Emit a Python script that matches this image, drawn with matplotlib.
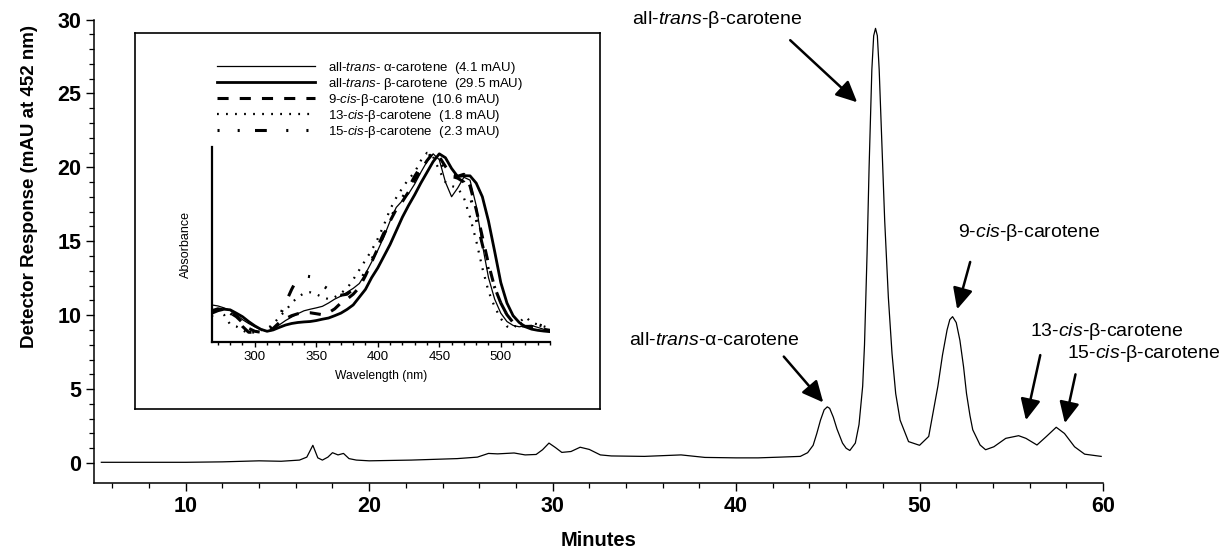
import matplotlib
matplotlib.use("Agg")
import matplotlib.pyplot as plt
from matplotlib.ticker import MultipleLocator, FixedLocator

plt.rcParams['font.family'] = ['Liberation Sans', 'DejaVu Sans']
plt.rcParams['mathtext.fontset'] = 'custom'
plt.rcParams['mathtext.rm'] = 'Liberation Sans'
plt.rcParams['mathtext.it'] = 'Liberation Sans:italic'
plt.rcParams['lines.scale_dashes'] = False

# ---------------- chromatogram data ----------------
minutes = [5.4, 8, 10, 12, 14, 15.2, 16.2, 16.6, 16.93, 17.2, 17.45, 17.75, 18.0, 18.3,
           18.6, 18.9, 19.3, 20, 22.3, 24.8, 25.9, 26.5, 27.0, 27.9, 28.5, 29.1, 29.45,
           29.8, 30.15, 30.5, 31.0, 31.5, 32.0, 32.6, 33.2, 35.0, 37.0, 38.3, 40.0, 41.2,
           42.4, 43.5, 43.9, 44.2, 44.4, 44.6, 44.8, 44.97, 45.1, 45.3, 45.5, 45.8, 46.0,
           46.2, 46.5, 46.7, 46.9, 47.0, 47.14,
           47.25, 47.4, 47.5, 47.6, 47.7, 47.8, 47.95, 48.1, 48.3, 48.5, 48.7, 48.94, 49.4,
           50.0, 50.5, 51.0, 51.25, 51.5, 51.65, 51.8, 52.0, 52.2, 52.4, 52.56, 52.75, 52.9,
           53.3, 53.6, 54.05, 54.7, 55.4,
           55.8, 56.4, 56.9, 57.45, 57.9, 58.45, 59.0, 59.9]
response = [0.05, 0.05, 0.05, 0.08, 0.15, 0.12, 0.2, 0.4, 1.2, 0.35, 0.2, 0.4, 0.7, 0.55,
            0.65, 0.3, 0.2, 0.15, 0.2, 0.3, 0.4, 0.65, 0.62, 0.68, 0.55, 0.58, 0.9,
            1.35, 1.05, 0.72, 0.78, 1.07, 0.92, 0.55, 0.48, 0.45, 0.55, 0.38, 0.35, 0.35,
            0.4, 0.45, 0.7, 1.2, 2.0, 2.9, 3.6, 3.8, 3.7, 3.1, 2.3, 1.35, 1.0,
            0.85, 1.35, 2.6, 5.2, 8.0, 14.2,
            20.0, 26.6, 28.9, 29.4, 28.9, 26.6, 21.5, 16.4, 11.2, 7.4, 4.7, 2.9, 1.45,
            1.2, 1.8, 5.2, 7.3, 9.0, 9.7, 9.9, 9.5, 8.3, 6.5, 4.7, 3.2, 2.25,
            1.22, 0.9, 1.1, 1.67, 1.85,
            1.67, 1.22, 1.78, 2.42, 2.0, 1.1, 0.6, 0.45]

# peak labels: text, text position (min, mAU), arrow tail, arrow head
peak_labels = ["all-$\\mathit{trans}$-β-carotene", "all-$\\mathit{trans}$-α-carotene",
               "9-$\\mathit{cis}$-β-carotene", "13-$\\mathit{cis}$-β-carotene",
               "15-$\\mathit{cis}$-β-carotene"]
label_xy = [(39.0, 30.0), (38.8, 8.3), (56.0, 15.6), (60.2, 8.9), (62.2, 7.4)]
arrow_tail = [(42.95, 28.6), (42.6, 7.2), (52.76, 13.6), (56.58, 7.3), (58.5, 6.0)]
arrow_head = [(46.6, 24.4), (44.75, 4.1), (52.05, 10.4), (55.8, 2.9), (57.92, 2.7)]

# ---------------- inset spectra data ----------------
wavelength = list(range(265, 545, 5))
alpha_trans = [0.19, 0.185, 0.175, 0.162, 0.14, 0.115, 0.095, 0.078, 0.063, 0.055, 0.065, 0.088,
               0.11, 0.128, 0.145, 0.16, 0.168, 0.175, 0.183, 0.2, 0.22, 0.235, 0.255, 0.275,
               0.30, 0.35, 0.41, 0.47, 0.54, 0.62, 0.69, 0.725, 0.76, 0.81, 0.87, 0.925,
               0.965, 0.935, 0.82, 0.745, 0.79, 0.845, 0.83, 0.7, 0.5, 0.33, 0.22, 0.148,
               0.105, 0.085, 0.078, 0.083, 0.085, 0.075, 0.065, 0.06]
beta_trans = [0.147, 0.16, 0.168, 0.165, 0.148, 0.13, 0.105, 0.083, 0.065, 0.055, 0.062, 0.075,
              0.087, 0.095, 0.1, 0.103, 0.105, 0.11, 0.117, 0.123, 0.135, 0.148, 0.167, 0.19,
              0.23, 0.27, 0.33, 0.38, 0.44, 0.5, 0.57, 0.64, 0.70, 0.755, 0.815, 0.87,
              0.925, 0.965, 0.945, 0.89, 0.848, 0.853, 0.852, 0.815, 0.745, 0.62, 0.465, 0.305,
              0.2, 0.135, 0.1, 0.078, 0.066, 0.06, 0.056, 0.053]
cis9 = [0.16, 0.17, 0.165, 0.15, 0.13, 0.1, 0.07, 0.055, 0.05, 0.052, 0.07, 0.1,
        0.12, 0.135, 0.145, 0.15, 0.15, 0.145, 0.14, 0.15, 0.17, 0.2, 0.22, 0.245,
        0.28, 0.34, 0.41, 0.48, 0.55, 0.62, 0.68, 0.72, 0.77, 0.83, 0.88, 0.93,
        0.97, 0.95, 0.9, 0.86, 0.85, 0.86, 0.8, 0.68, 0.54, 0.4, 0.28, 0.2,
        0.14, 0.1, 0.085, 0.08, 0.08, 0.072, 0.065, 0.06]
cis13 = [0.13, 0.17, 0.14, 0.09, 0.08, 0.06, 0.045, 0.05, 0.06, 0.07, 0.09, 0.13,
         0.16, 0.2, 0.23, 0.25, 0.255, 0.245, 0.23, 0.22, 0.23, 0.25, 0.275, 0.32,
         0.37, 0.42, 0.47, 0.53, 0.6, 0.68, 0.74, 0.79, 0.835, 0.87, 0.93, 0.97,
         0.95, 0.88, 0.82, 0.8, 0.79, 0.74, 0.64, 0.52, 0.38, 0.26, 0.18, 0.12,
         0.08, 0.07, 0.1, 0.13, 0.1, 0.09, 0.08, 0.07]
cis15 = [0.16, 0.17, 0.165, 0.15, 0.12, 0.08, 0.05, 0.05, 0.055, 0.06, 0.08, 0.13,
         0.2, 0.27, 0.33, 0.34, 0.335, 0.31, 0.29, 0.27, 0.25, 0.24, 0.245, 0.27,
         0.31, 0.36, 0.42, 0.49, 0.56, 0.63, 0.69, 0.74, 0.79, 0.85, 0.9, 0.945,
         0.97, 0.93, 0.88, 0.85, 0.84, 0.82, 0.75, 0.63, 0.5, 0.37, 0.28, 0.2,
         0.14, 0.1, 0.09, 0.1, 0.1, 0.09, 0.08, 0.07]
spectra_labels = ["all-$\\mathit{trans}$- α-carotene  (4.1 mAU)",
                  "all-$\\mathit{trans}$- β-carotene  (29.5 mAU)",
                  "9-$\\mathit{cis}$-β-carotene  (10.6 mAU)",
                  "13-$\\mathit{cis}$-β-carotene  (1.8 mAU)",
                  "15-$\\mathit{cis}$-β-carotene  (2.3 mAU)"]

W, H = 1222, 555
fig = plt.figure(figsize=(W / 100, H / 100), dpi=100)

def fx(px):
    return px / W

def fy(py):
    return 1 - py / H

# ---------------- main axes ----------------
ax_left, ax_right, ax_top, ax_bottom = 94, 1103, 19.5, 483
ax = fig.add_axes([fx(ax_left), fy(ax_bottom), fx(ax_right) - fx(ax_left),
                   fy(ax_top) - fy(ax_bottom)])
ax.plot(minutes, response, color='black', lw=0.9, solid_joinstyle='round')
ax.set_xlim(5, 60)
ax.set_ylim(-1.35, 30)
for s in ['top', 'right']:
    ax.spines[s].set_visible(False)
for s in ['left', 'bottom']:
    ax.spines[s].set_linewidth(1.1)
ax.xaxis.set_major_locator(FixedLocator([10, 20, 30, 40, 50, 60]))
ax.xaxis.set_minor_locator(FixedLocator(list(range(6, 61, 2))))
ax.yaxis.set_major_locator(FixedLocator([0, 5, 10, 15, 20, 25, 30]))
ax.yaxis.set_minor_locator(FixedLocator(list(range(0, 31, 1))))
ax.tick_params(which='major', direction='out', length=6, width=1.0, labelsize=15.5, pad=3)
ax.tick_params(which='minor', direction='out', length=3.5, width=0.9)
for lab in ax.get_xticklabels() + ax.get_yticklabels():
    lab.set_fontweight('bold')
ax.set_xlabel('Minutes', fontsize=14.5, fontweight='bold', va='center')
ax.xaxis.set_label_coords(0.5, (ax_bottom - 541) / (ax_bottom - ax_top))
ax.set_ylabel('Detector Response (mAU at 452 nm)', fontsize=13.5, fontweight='bold',
              va='center', ha='center')
ax.yaxis.set_label_coords((30 - ax_left) / (ax_right - ax_left),
                          (ax_bottom - 186) / (ax_bottom - ax_top))

for lab, txy, tail, head in zip(peak_labels, label_xy, arrow_tail, arrow_head):
    ax.text(txy[0], txy[1], lab, fontsize=14, ha='center', va='center', clip_on=False)
    ax.annotate('', xy=head, xytext=tail,
                arrowprops=dict(arrowstyle='-|>,head_length=0.8,head_width=0.38',
                                lw=1.8, color='black', shrinkA=0, shrinkB=0,
                                mutation_scale=16))

# ---------------- inset frame ----------------
box = fig.add_axes([fx(135), fy(409), fx(600) - fx(135), fy(33) - fy(409)])
box.set_xticks([])
box.set_yticks([])
for s in box.spines.values():
    s.set_linewidth(1.2)
box.set_facecolor('white')

# ---------------- inset spectra ----------------
ins = fig.add_axes([fx(211.7), fy(342), fx(550) - fx(211.7), fy(147) - fy(342)])
ins.set_facecolor('none')
l1, = ins.plot(wavelength, alpha_trans, color='black', lw=0.9)
l2, = ins.plot(wavelength, beta_trans, color='black', lw=2.0)
l3, = ins.plot(wavelength, cis9, color='black', lw=2.2, dashes=(8, 8))
l4, = ins.plot(wavelength, cis13, color='black', lw=1.6, dashes=(1.3, 5.2))
l5, = ins.plot(wavelength, cis15, color='black', lw=2.2,
               dashes=(1.5, 13, 1.5, 11, 8.5, 14))
ins.set_xlim(265, 540)
ins.set_ylim(0, 1)
for s in ['top', 'right']:
    ins.spines[s].set_visible(False)
ins.spines['left'].set_linewidth(1.6)
ins.spines['bottom'].set_linewidth(1.6)
ins.set_yticks([])
ins.xaxis.set_major_locator(FixedLocator([300, 350, 400, 450, 500]))
ins.xaxis.set_minor_locator(MultipleLocator(10))
ins.tick_params(which='major', direction='out', length=3.5, width=1.0, labelsize=9.5, pad=3)
ins.tick_params(which='minor', direction='out', length=2.5, width=1.0)
ins.set_xlabel('Wavelength (nm)', fontsize=8.7, labelpad=5)
ins.set_ylabel('Absorbance', fontsize=9, labelpad=14)

leg = ins.legend([l1, l2, l3, l4, l5], spectra_labels, loc='upper left',
                 bbox_to_anchor=(fx(217), fy(60)), bbox_transform=fig.transFigure,
                 frameon=False, fontsize=9.5, handlelength=7.4, handletextpad=1.0,
                 labelspacing=0.0, borderpad=0, borderaxespad=0)

fig.savefig('out.png', dpi=100)
